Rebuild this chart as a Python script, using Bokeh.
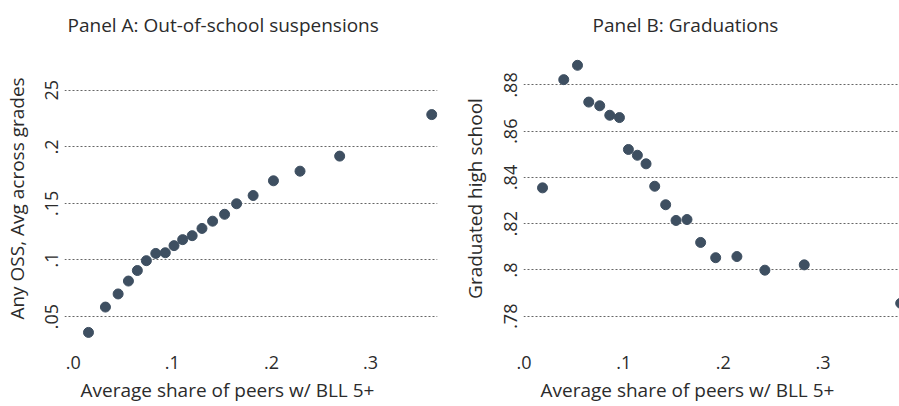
from bokeh.plotting import figure
from bokeh.layouts import row
from bokeh.models import Range1d, FixedTicker, Title
from bokeh.embed import file_html
from bokeh.resources import INLINE

# Panel A: out-of-school suspensions
peer_share_a = [0.0154, 0.0325, 0.0453, 0.0557, 0.0647, 0.0738, 0.0833, 0.0929, 0.1017, 0.1104,
                0.1200, 0.1299, 0.1406, 0.1527, 0.1648, 0.1815, 0.2020, 0.2288, 0.2688, 0.3617]
any_oss = [0.0360, 0.0584, 0.0700, 0.0814, 0.0907, 0.0994, 0.1058, 0.1064, 0.1127, 0.1180,
           0.1215, 0.1279, 0.1343, 0.1404, 0.1497, 0.1570, 0.1700, 0.1785, 0.1918, 0.2285]

# Panel B: graduations
peer_share_b = [0.0185, 0.0398, 0.0536, 0.0649, 0.0759, 0.0860, 0.0957, 0.1047, 0.1137, 0.1224,
                0.1311, 0.1421, 0.1525, 0.1635, 0.1772, 0.1923, 0.2136, 0.2417, 0.2812, 0.3780]
graduated = [0.8355, 0.8823, 0.8885, 0.8726, 0.8710, 0.8669, 0.8659, 0.8521, 0.8496, 0.8459,
             0.8362, 0.8282, 0.8214, 0.8218, 0.8119, 0.8053, 0.8058, 0.7999, 0.8022, 0.7856]

x_ticks = [0.0, 0.1, 0.2, 0.3]
x_tick_labels = [".0", ".1", ".2", ".3"]
a_y_ticks = [0.05, 0.10, 0.15, 0.20, 0.25]
a_y_tick_labels = [".05", ".1", ".15", ".2", "25"]
b_y_ticks = [0.78, 0.80, 0.82, 0.84, 0.86, 0.88]
b_y_tick_labels = [".78", ".8", ".82", ".84", ".86", ".88"]

FONT = "Open Sans"
DOT = "#3e4f61"
TXT = "#2b2b2b"
XTITLE = "Average share of peers w/ BLL 5+"


def make_panel(title, ylabel, xs, ys, yticks, ylabels, width, mbl, mbr, xr, yr,
               ylab_standoff, title_x, xtitle_x):
    p = figure(width=width, height=406, x_range=Range1d(*xr), y_range=Range1d(*yr),
               output_backend="svg", toolbar_location=None,
               min_border_left=mbl, min_border_right=mbr, min_border_top=46, min_border_bottom=54)
    p.outline_line_color = None
    p.background_fill_color = "white"
    p.border_fill_color = "white"

    p.title.text = title
    p.title.align = "left"
    p.title.offset = title_x
    p.title.text_font = FONT
    p.title.text_font_size = "19px"
    p.title.text_font_style = "normal"
    p.title.text_color = TXT
    p.title.standoff = 19
    p.add_layout(Title(text=XTITLE, align="left", offset=xtitle_x, text_font=FONT,
                       text_font_size="19px", text_font_style="normal", text_color=TXT,
                       standoff=7), "below")

    p.xaxis.ticker = FixedTicker(ticks=x_ticks)
    p.xaxis.major_label_overrides = {t: l for t, l in zip(x_ticks, x_tick_labels)}
    p.yaxis.ticker = FixedTicker(ticks=yticks)
    p.yaxis.major_label_overrides = {t: l for t, l in zip(yticks, ylabels)}
    p.yaxis.major_label_orientation = "vertical"
    p.yaxis.axis_label = ylabel
    p.yaxis.axis_label_standoff = ylab_standoff
    for ax in (p.xaxis, p.yaxis):
        ax.axis_line_color = None
        ax.major_tick_line_color = None
        ax.minor_tick_line_color = None
        ax.major_tick_out = 0
        ax.major_tick_in = 0
        ax.major_label_text_font = FONT
        ax.major_label_text_font_size = "18px"
        ax.major_label_text_color = TXT
        ax.major_label_standoff = 6
        ax.axis_label_text_font = FONT
        ax.axis_label_text_font_size = "19px"
        ax.axis_label_text_font_style = "normal"
        ax.axis_label_text_color = TXT

    p.xgrid.grid_line_color = None
    p.ygrid.grid_line_color = "#666666"
    p.ygrid.grid_line_dash = "2 2"
    p.ygrid.grid_line_width = 1

    p.scatter(xs, ys, size=10, fill_color=DOT, line_color=DOT)
    return p


pa = make_panel("Panel A: Out-of-school suspensions", "Any OSS, Avg across grades",
                peer_share_a, any_oss, a_y_ticks, a_y_tick_labels,
                450, 63, 13, (-0.0088, 0.3675), (0.0209, 0.2878), 13, 3, 16)
pb = make_panel("Panel B: Graduations", "Graduated high school",
                peer_share_b, graduated, b_y_ticks, b_y_tick_labels,
                449, 73, 0, (-0.0006, 0.3768), (0.7656, 0.8962), 14, 69, 17)

layout = row(pa, pb)
open("out.html", "w").write(file_html(layout, INLINE))
